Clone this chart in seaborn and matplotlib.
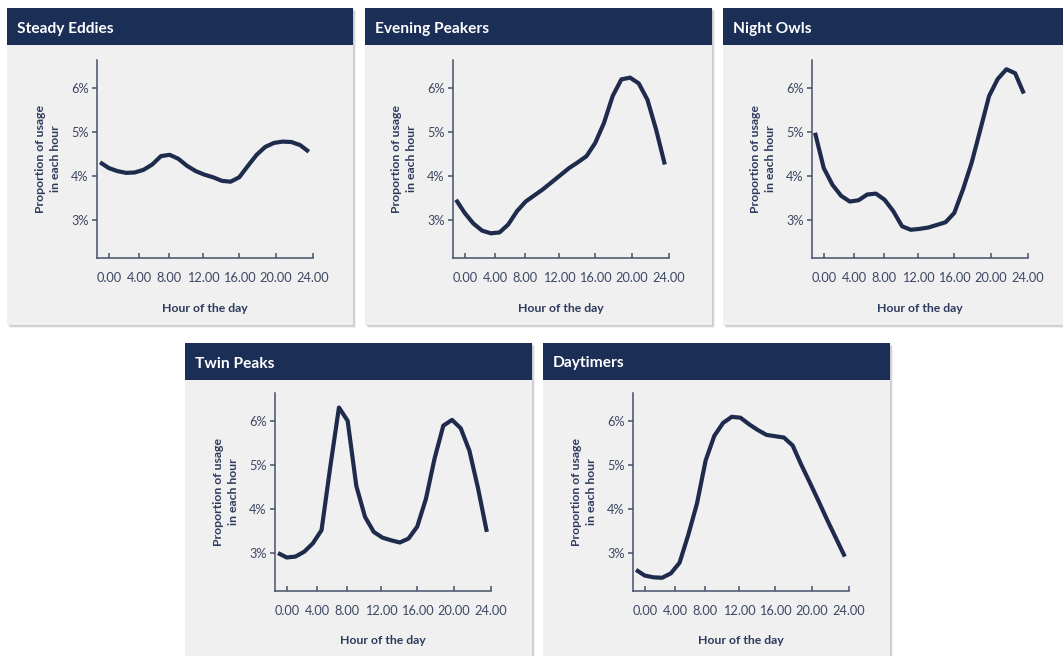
import matplotlib
matplotlib.use("Agg")
import matplotlib.pyplot as plt
from matplotlib.patches import Rectangle
import seaborn as sns

# ---- data -------------------------------------------------------------
hours = list(range(25))

steady_eddies = [4.31, 4.18, 4.11, 4.07, 4.08, 4.14, 4.26, 4.45, 4.48, 4.39,
                 4.23, 4.11, 4.03, 3.97, 3.89, 3.87, 3.97, 4.23, 4.48, 4.66,
                 4.75, 4.78, 4.77, 4.70, 4.55]
evening_peakers = [3.46, 3.16, 2.92, 2.76, 2.70, 2.72, 2.90, 3.20, 3.42, 3.56,
                   3.70, 3.86, 4.02, 4.18, 4.31, 4.45, 4.75, 5.20, 5.81, 6.19,
                   6.23, 6.10, 5.73, 5.05, 4.26]
night_owls = [4.98, 4.18, 3.80, 3.55, 3.42, 3.45, 3.58, 3.60, 3.46, 3.20,
              2.86, 2.78, 2.80, 2.83, 2.89, 2.95, 3.16, 3.69, 4.30, 5.05,
              5.81, 6.20, 6.42, 6.33, 5.87]
twin_peaks = [3.00, 2.90, 2.92, 3.03, 3.22, 3.52, 4.95, 6.30, 6.00, 4.52,
              3.82, 3.48, 3.35, 3.29, 3.24, 3.33, 3.60, 4.23, 5.15, 5.89,
              6.02, 5.83, 5.32, 4.46, 3.48]
daytimers = [2.62, 2.49, 2.45, 2.44, 2.54, 2.78, 3.41, 4.12, 5.10, 5.66,
             5.95, 6.09, 6.07, 5.92, 5.79, 5.68, 5.65, 5.62, 5.44, 5.00,
             4.59, 4.17, 3.74, 3.33, 2.92]

titles = ["Steady Eddies", "Evening Peakers", "Night Owls", "Twin Peaks", "Daytimers"]
series = [steady_eddies, evening_peakers, night_owls, twin_peaks, daytimers]

x_tick_labels = ["0.00", "4.00", "8.00", "12.00", "16.00", "20.00", "24.00"]
y_ticks = [3, 4, 5, 6]
y_tick_labels = ["3%", "4%", "5%", "6%"]
x_label = "Hour of the day"
y_label = "Proportion of usage\nin each hour"

# ---- layout (pixels) --------------------------------------------------
W, H = 1063, 656
HEADER_H = 37
AX_W, AX_H = 216, 198
# panel box (left, top, right, bottom) and axes origin (left, top)
panel_boxes = [(7, 8, 353, 325), (365, 8, 712, 325), (723, 8, 1080, 325),
               (185, 343, 532, 680), (543, 343, 890, 680)]
axes_origins = [(97, 60), (453, 60), (812, 60), (275, 393), (633, 393)]
x_tick_pos = [1.03, 4.48, 7.93, 11.84, 15.98, 20.23, 24.48]
x_lim = (-0.35, 24.48)
y_lim = (2.14, 6.63)

NAVY = "#1b2e56"
PANEL_BG = "#f0f0f1"
LINE = "#1e2b4c"
SPINE = "#46506a"
TICK_TXT = "#3c4763"
LABEL_TXT = "#2e3b5c"

sns.set_style("white")
plt.rcParams["font.family"] = ["Lato", "DejaVu Sans"]

fig = plt.figure(figsize=(W / 100, H / 100), dpi=100, facecolor="white")
bg = fig.add_axes([0, 0, 1, 1])
bg.set_xlim(0, W)
bg.set_ylim(H, 0)
bg.axis("off")

for title, values, (l, t, r, b), (axl, axt) in zip(titles, series, panel_boxes, axes_origins):
    w, h = r - l, b - t
    # soft drop shadow
    for k in range(1, 5):
        bg.add_patch(Rectangle((l + k * 0.8, t + k * 0.8), w, h, facecolor="#6d6d6d",
                               alpha=0.10, lw=0, zorder=1))
    bg.add_patch(Rectangle((l, t), w, h, facecolor=PANEL_BG, lw=0, zorder=2))
    bg.add_patch(Rectangle((l, t), w, HEADER_H, facecolor=NAVY, lw=0, zorder=3))
    bg.text(l + 10, t + HEADER_H / 2 + 2, title, color="white", fontsize=11.2,
            fontweight="bold", va="center", ha="left", zorder=4)

    ax = fig.add_axes([axl / W, 1 - (axt + AX_H) / H, AX_W / W, AX_H / H])
    ax.patch.set_alpha(0)
    sns.lineplot(x=hours, y=values, ax=ax, color=LINE, lw=3,
                 solid_joinstyle="round", solid_capstyle="butt")
    ax.set_xlim(*x_lim)
    ax.set_ylim(*y_lim)
    ax.set_xticks(x_tick_pos)
    ax.set_xticklabels(x_tick_labels)
    ax.set_yticks(y_ticks)
    ax.set_yticklabels(y_tick_labels)
    for side in ("top", "right"):
        ax.spines[side].set_visible(False)
    for side in ("left", "bottom"):
        ax.spines[side].set_color(SPINE)
        ax.spines[side].set_linewidth(1.1)
    ax.tick_params(axis="x", direction="in", length=3.5, width=1.1, color=SPINE,
                   pad=10, labelsize=9.2, labelcolor=TICK_TXT, bottom=True)
    ax.tick_params(axis="y", direction="out", length=3.5, width=1.1, color=SPINE,
                   pad=2.5, labelsize=9.2, labelcolor=TICK_TXT, left=True)
    ax.set_xlabel("")
    ax.set_ylabel("")
    ax.text(0.5, -50 / AX_H, x_label, transform=ax.transAxes, ha="center", va="center",
            fontsize=8.8, fontweight="bold", color=LABEL_TXT)
    ax.text(-49 / AX_W, 0.5, y_label, transform=ax.transAxes, ha="center", va="center",
            rotation=90, fontsize=8.8, fontweight="bold", color=LABEL_TXT,
            linespacing=1.35)

fig.savefig("out.png", dpi=100, facecolor="white")
